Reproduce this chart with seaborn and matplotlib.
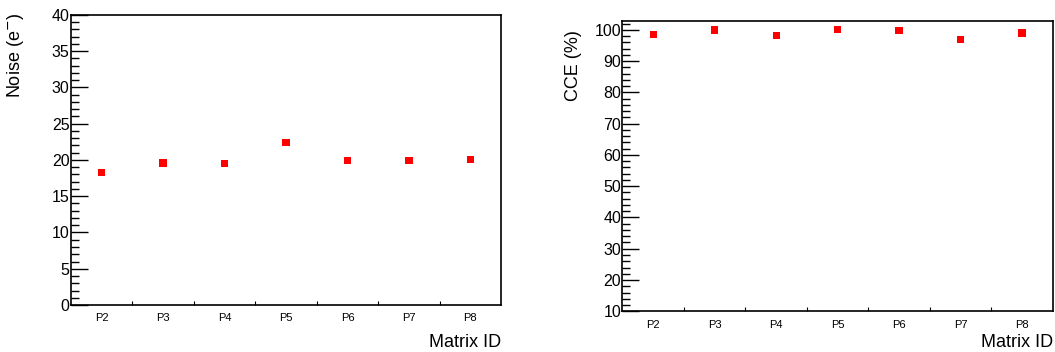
import numpy as np
import pandas as pd
import matplotlib.pyplot as plt
import seaborn as sns
from matplotlib.ticker import MultipleLocator, FixedLocator

matrix_ids = ['P2', 'P3', 'P4', 'P5', 'P6', 'P7', 'P8']
noise = [18.25, 19.6, 19.5, 22.4, 19.95, 19.95, 20.05]
cce = [98.4, 99.9, 98.1, 100.0, 99.8, 96.9, 99.0]

sns.set_style('ticks', {'text.color': 'black', 'axes.labelcolor': 'black',
                        'xtick.color': 'black', 'ytick.color': 'black',
                        'axes.edgecolor': 'black'})
plt.rcParams['font.family'] = ['Liberation Sans', 'DejaVu Sans']

df = pd.DataFrame({'matrix': matrix_ids, 'pos': np.arange(len(matrix_ids)),
                   'noise': noise, 'cce': cce})

fig = plt.figure(figsize=(10.55, 3.52), dpi=100)
ax1 = fig.add_axes([0.0673, 0.1335, 0.4076, 0.824])
ax2 = fig.add_axes([0.590, 0.1156, 0.408, 0.8256])


def style_axis(ax, col, ylabel, ylim, major, minor, xpad):
    sns.scatterplot(data=df, x='pos', y=col, marker='s', s=28, color='#ff0000',
                    edgecolor='none', ax=ax, legend=False)
    ax.set_xlim(-0.5, len(matrix_ids) - 0.5)
    ax.set_ylim(*ylim)
    ax.set_xticks(df['pos'])
    ax.set_xticklabels(matrix_ids, fontsize=8)
    ax.xaxis.set_minor_locator(FixedLocator(np.arange(0.5, len(matrix_ids) - 0.5, 1)))
    ax.yaxis.set_major_locator(MultipleLocator(major))
    ax.yaxis.set_minor_locator(MultipleLocator(minor))
    ax.tick_params(axis='x', which='major', length=0, pad=6)
    ax.tick_params(axis='x', which='minor', direction='in', length=3, width=0.8)
    ax.tick_params(axis='y', which='major', direction='in', length=12, width=1,
                   labelsize=11.5, pad=1)
    ax.tick_params(axis='y', which='minor', direction='in', length=6, width=1)
    for sp in ax.spines.values():
        sp.set_linewidth(1.2)
        sp.set_color('black')
    ax.set_ylabel(ylabel, fontsize=13)
    ax.set_xlabel('Matrix ID', fontsize=13, loc='right', labelpad=xpad)


style_axis(ax1, 'noise', 'Noise (e$^{-}$)', (0, 40), 5, 1, 8)
style_axis(ax2, 'cce', 'CCE (%)', (10, 102.9), 10, 2, 3)
ax1.yaxis.set_label_coords(-0.105, 0.86)
ax2.yaxis.set_label_coords(-0.093, 0.847)

fig.savefig('out.png', dpi=100)
